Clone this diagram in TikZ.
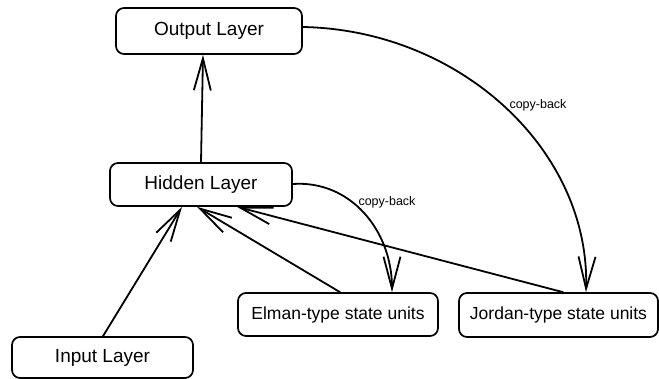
\documentclass[tikz,border=0pt]{standalone}
\usepackage{fontspec}
\setmainfont{Liberation Sans}
\usetikzlibrary{arrows.meta,calc}
\begin{document}
\begin{tikzpicture}[x=1pt,y=-1pt,
 box/.style={draw, line width=1.7pt, rounded corners=8pt, inner sep=0pt, font=\fontsize{19}{22}\selectfont},
 sbox/.style={box, font=\fontsize{17.5}{20}\selectfont},
 conn/.style={line width=1.8pt, line cap=round, -{Straight Barb[length=32pt,width=17pt,line width=1.8pt]}},
 lbl/.style={font=\fontsize{12.5}{14}\selectfont}]
\useasboundingbox (0,0) rectangle (659,379);
\node[box, minimum width=186pt, minimum height=46pt] (out) at (209,31) {Output Layer};
\node[box, minimum width=182pt, minimum height=43pt] (hid) at (201,184.5) {Hidden Layer};
\node[box, minimum width=181pt, minimum height=41pt] (in) at (102.5,357.5) {Input Layer};
\node[sbox, minimum width=200pt, minimum height=43pt] (elm) at (338,314.5) {Elman-type state units};
\node[sbox, minimum width=199pt, minimum height=44pt] (jor) at (558.5,315) {Jordan-type state units};
\draw[conn] (hid.north) -- ([xshift=-6pt]out.south);
\draw[conn] ([xshift=0.5pt]in.north) -- ([xshift=-19pt]hid.south);
\draw[conn] ([xshift=2pt]elm.north) -- ([xshift=-4pt]hid.south);
\draw[conn] ([xshift=4.5pt]jor.north) -- ([xshift=36pt]hid.south);
\draw[conn] ([yshift=4pt]out.east) .. controls (460,30) and (590,150) .. ([xshift=27.5pt]jor.north);
\draw[conn] ([yshift=0.5pt]hid.east) .. controls (350,180) and (392,230) .. ([xshift=54pt]elm.north);
\node[lbl] (cb1) at (538,105) {copy-back};
\node[lbl] (cb2) at (387,202) {copy-back};
\end{tikzpicture}
\end{document}
